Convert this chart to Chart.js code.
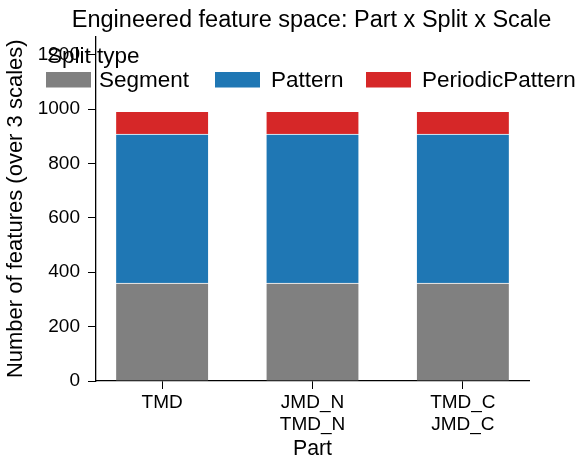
<!DOCTYPE html>
<html>
<head>
<meta charset="utf-8">
<script src="https://cdn.jsdelivr.net/npm/chart.js@4/dist/chart.umd.min.js"></script>
<style>
  html, body { margin: 0; padding: 0; background: #fff; }
  #wrap { width: 587px; height: 471px; position: relative; }
</style>
</head>
<body>
<div id="wrap"><canvas id="c" width="587" height="471"></canvas></div>
<script>
// ---- data ----
const categories = ["TMD", ["JMD_N", "TMD_N"], ["TMD_C", "JMD_C"]];
const seriesNames = ["Segment", "Pattern", "PeriodicPattern"];
const segmentValues = [360, 360, 360];
const patternValues = [548, 548, 548];
const periodicPatternValues = [84, 84, 84];
const yTickValues = [0, 200, 400, 600, 800, 1000, 1200];
const seriesColors = ["#808080", "#1f77b4", "#d62728"];

const chartTitle = "Engineered feature space: Part x Split x Scale";
const legendTitle = "Split type";
const xTitle = "Part";
const yTitle = "Number of features (over 3 scales)";

const FONT = "'Liberation Sans', Arial, sans-serif";
const allSeries = [segmentValues, patternValues, periodicPatternValues];

const datasets = seriesNames.map((name, s) => ({
  label: name,
  data: allSeries[s].map((v, i) => ({ x: i, y: v })),
  backgroundColor: seriesColors[s],
  borderColor: "#ffffff",
  borderWidth: { top: 1, left: 0, right: 0, bottom: 0 },
  borderSkipped: false,
  barThickness: 92
}));

const titlePlugin = {
  id: "customTitle",
  afterDraw(chart) {
    const { ctx, chartArea } = chart;
    ctx.save();
    ctx.fillStyle = "#000";
    ctx.font = "23.5px " + FONT;
    ctx.textAlign = "center";
    ctx.textBaseline = "alphabetic";
    ctx.fillText(chartTitle, (chartArea.left + chartArea.right) / 2 - 1, 27);
    ctx.restore();
  }
};

const legendPlugin = {
  id: "customLegend",
  afterDraw(chart) {
    const { ctx } = chart;
    ctx.save();
    ctx.fillStyle = "#000";
    ctx.font = "22.5px " + FONT;
    ctx.textAlign = "left";
    ctx.textBaseline = "alphabetic";
    ctx.fillText(legendTitle, 47, 63);
    const boxX = [46, 215, 366];
    const textX = [99, 271, 422];
    chart.data.datasets.forEach((ds, i) => {
      ctx.fillStyle = ds.backgroundColor;
      ctx.fillRect(boxX[i], 72, 45, 15.5);
      ctx.fillStyle = "#000";
      ctx.fillText(ds.label, textX[i], 87);
    });
    ctx.restore();
  }
};

new Chart(document.getElementById("c"), {
  type: "bar",
  data: { datasets },
  options: {
    responsive: false,
    animation: false,
    devicePixelRatio: 1,
    layout: { padding: { top: 36.5, right: 58, left: 0, bottom: 0 } },
    plugins: {
      legend: { display: false },
      title: { display: false },
      tooltip: { enabled: false }
    },
    scales: {
      x: {
        type: "linear",
        stacked: true,
        offset: false,
        min: -0.44,
        max: 2.44,
        afterBuildTicks(scale) {
          scale.ticks = categories.map((_, i) => ({ value: i }));
        },
        afterFit(scale) { scale.height = 90; },
        ticks: {
          autoSkip: false,
          maxRotation: 0,
          padding: 2,
          color: "#000",
          font: { family: FONT, size: 19 },
          callback: (v) => categories[Math.round(v)]
        },
        grid: {
          offset: false,
          drawOnChartArea: false,
          tickLength: 8,
          tickColor: "#000",
          tickWidth: 1
        },
        border: { display: true, color: "#000", width: 1.3 },
        title: {
          display: true,
          text: xTitle,
          color: "#000",
          font: { family: FONT, size: 21.3 },
          padding: { top: 0, bottom: 9 }
        }
      },
      y: {
        stacked: true,
        min: 0,
        max: 1267,
        afterBuildTicks(scale) {
          scale.ticks = yTickValues.map(v => ({ value: v }));
        },
        afterFit(scale) { scale.width = 96; },
        ticks: {
          padding: 8,
          color: "#000",
          font: { family: FONT, size: 19 },
          callback: (v) => String(v)
        },
        grid: {
          drawOnChartArea: false,
          tickLength: 8,
          tickColor: "#000",
          tickWidth: 1
        },
        border: { display: true, color: "#000", width: 1.3 },
        title: {
          display: true,
          text: yTitle,
          color: "#000",
          font: { family: FONT, size: 22 },
          padding: { top: 3, bottom: 0 }
        }
      }
    }
  },
  plugins: [titlePlugin, legendPlugin]
});
</script>
</body>
</html>
